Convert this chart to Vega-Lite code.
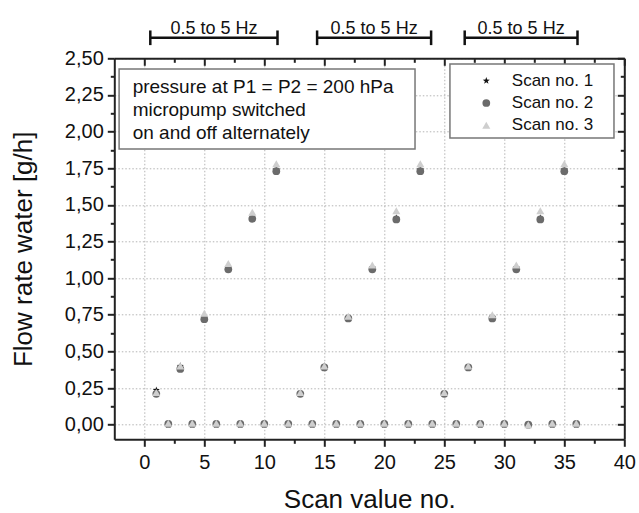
{
  "$schema": "https://vega.github.io/schema/vega-lite/v6.json",
  "width": 510,
  "height": 381,
  "autosize": {"type": "none"},
  "padding": {"left": 114.3, "top": 58.3, "right": 14.7, "bottom": 73.7},
  "background": "white",
  "config": {
    "font": "Liberation Sans",
    "view": {"stroke": null},
    "axis": {"titleFontWeight": "normal", "titleColor": "#111", "labelColor": "#111", "domainColor": "#222", "domainWidth": 2, "tickColor": "#222", "tickWidth": 2, "labelFlush": false, "labelOverlap": false, "labelBound": false}
  },
  "datasets": {
    "flow": [
      {"scan": "Scan no. 1", "n": 1, "flow": 0.235}, {"scan": "Scan no. 1", "n": 2, "flow": 0}, {"scan": "Scan no. 1", "n": 3, "flow": 0.40}, {"scan": "Scan no. 1", "n": 4, "flow": 0},
      {"scan": "Scan no. 1", "n": 5, "flow": 0.73}, {"scan": "Scan no. 1", "n": 6, "flow": 0}, {"scan": "Scan no. 1", "n": 7, "flow": 1.07}, {"scan": "Scan no. 1", "n": 8, "flow": 0},
      {"scan": "Scan no. 1", "n": 9, "flow": 1.41}, {"scan": "Scan no. 1", "n": 10, "flow": 0}, {"scan": "Scan no. 1", "n": 11, "flow": 1.74}, {"scan": "Scan no. 1", "n": 12, "flow": 0},
      {"scan": "Scan no. 1", "n": 13, "flow": 0.21}, {"scan": "Scan no. 1", "n": 14, "flow": 0}, {"scan": "Scan no. 1", "n": 15, "flow": 0.40}, {"scan": "Scan no. 1", "n": 16, "flow": 0},
      {"scan": "Scan no. 1", "n": 17, "flow": 0.73}, {"scan": "Scan no. 1", "n": 18, "flow": 0}, {"scan": "Scan no. 1", "n": 19, "flow": 1.07}, {"scan": "Scan no. 1", "n": 20, "flow": 0},
      {"scan": "Scan no. 1", "n": 21, "flow": 1.41}, {"scan": "Scan no. 1", "n": 22, "flow": 0}, {"scan": "Scan no. 1", "n": 23, "flow": 1.74}, {"scan": "Scan no. 1", "n": 24, "flow": 0},
      {"scan": "Scan no. 1", "n": 25, "flow": 0.21}, {"scan": "Scan no. 1", "n": 26, "flow": 0}, {"scan": "Scan no. 1", "n": 27, "flow": 0.39}, {"scan": "Scan no. 1", "n": 28, "flow": 0},
      {"scan": "Scan no. 1", "n": 29, "flow": 0.73}, {"scan": "Scan no. 1", "n": 30, "flow": 0}, {"scan": "Scan no. 1", "n": 31, "flow": 1.07}, {"scan": "Scan no. 1", "n": 32, "flow": 0},
      {"scan": "Scan no. 1", "n": 33, "flow": 1.41}, {"scan": "Scan no. 1", "n": 34, "flow": 0}, {"scan": "Scan no. 1", "n": 35, "flow": 1.74}, {"scan": "Scan no. 1", "n": 36, "flow": 0},
      {"scan": "Scan no. 2", "n": 1, "flow": 0.21}, {"scan": "Scan no. 2", "n": 2, "flow": 0.005}, {"scan": "Scan no. 2", "n": 3, "flow": 0.38}, {"scan": "Scan no. 2", "n": 4, "flow": 0.005},
      {"scan": "Scan no. 2", "n": 5, "flow": 0.72}, {"scan": "Scan no. 2", "n": 6, "flow": 0.005}, {"scan": "Scan no. 2", "n": 7, "flow": 1.06}, {"scan": "Scan no. 2", "n": 8, "flow": 0.005},
      {"scan": "Scan no. 2", "n": 9, "flow": 1.405}, {"scan": "Scan no. 2", "n": 10, "flow": 0.005}, {"scan": "Scan no. 2", "n": 11, "flow": 1.73}, {"scan": "Scan no. 2", "n": 12, "flow": 0.005},
      {"scan": "Scan no. 2", "n": 13, "flow": 0.21}, {"scan": "Scan no. 2", "n": 14, "flow": 0.005}, {"scan": "Scan no. 2", "n": 15, "flow": 0.39}, {"scan": "Scan no. 2", "n": 16, "flow": 0.005},
      {"scan": "Scan no. 2", "n": 17, "flow": 0.725}, {"scan": "Scan no. 2", "n": 18, "flow": 0.005}, {"scan": "Scan no. 2", "n": 19, "flow": 1.06}, {"scan": "Scan no. 2", "n": 20, "flow": 0.005},
      {"scan": "Scan no. 2", "n": 21, "flow": 1.40}, {"scan": "Scan no. 2", "n": 22, "flow": 0.005}, {"scan": "Scan no. 2", "n": 23, "flow": 1.73}, {"scan": "Scan no. 2", "n": 24, "flow": 0.005},
      {"scan": "Scan no. 2", "n": 25, "flow": 0.21}, {"scan": "Scan no. 2", "n": 26, "flow": 0.005}, {"scan": "Scan no. 2", "n": 27, "flow": 0.39}, {"scan": "Scan no. 2", "n": 28, "flow": 0.005},
      {"scan": "Scan no. 2", "n": 29, "flow": 0.725}, {"scan": "Scan no. 2", "n": 30, "flow": 0.005}, {"scan": "Scan no. 2", "n": 31, "flow": 1.06}, {"scan": "Scan no. 2", "n": 32, "flow": 0.0},
      {"scan": "Scan no. 2", "n": 33, "flow": 1.40}, {"scan": "Scan no. 2", "n": 34, "flow": 0.005}, {"scan": "Scan no. 2", "n": 35, "flow": 1.73}, {"scan": "Scan no. 2", "n": 36, "flow": 0.005},
      {"scan": "Scan no. 3", "n": 1, "flow": 0.22}, {"scan": "Scan no. 3", "n": 2, "flow": 0.01}, {"scan": "Scan no. 3", "n": 3, "flow": 0.40}, {"scan": "Scan no. 3", "n": 4, "flow": 0.01},
      {"scan": "Scan no. 3", "n": 5, "flow": 0.76}, {"scan": "Scan no. 3", "n": 6, "flow": 0.01}, {"scan": "Scan no. 3", "n": 7, "flow": 1.10}, {"scan": "Scan no. 3", "n": 8, "flow": 0.01},
      {"scan": "Scan no. 3", "n": 9, "flow": 1.45}, {"scan": "Scan no. 3", "n": 10, "flow": 0.01}, {"scan": "Scan no. 3", "n": 11, "flow": 1.78}, {"scan": "Scan no. 3", "n": 12, "flow": 0.01},
      {"scan": "Scan no. 3", "n": 13, "flow": 0.22}, {"scan": "Scan no. 3", "n": 14, "flow": 0.01}, {"scan": "Scan no. 3", "n": 15, "flow": 0.40}, {"scan": "Scan no. 3", "n": 16, "flow": 0.01},
      {"scan": "Scan no. 3", "n": 17, "flow": 0.74}, {"scan": "Scan no. 3", "n": 18, "flow": 0.01}, {"scan": "Scan no. 3", "n": 19, "flow": 1.09}, {"scan": "Scan no. 3", "n": 20, "flow": 0.01},
      {"scan": "Scan no. 3", "n": 21, "flow": 1.46}, {"scan": "Scan no. 3", "n": 22, "flow": 0.01}, {"scan": "Scan no. 3", "n": 23, "flow": 1.78}, {"scan": "Scan no. 3", "n": 24, "flow": 0.01},
      {"scan": "Scan no. 3", "n": 25, "flow": 0.22}, {"scan": "Scan no. 3", "n": 26, "flow": 0.01}, {"scan": "Scan no. 3", "n": 27, "flow": 0.40}, {"scan": "Scan no. 3", "n": 28, "flow": 0.01},
      {"scan": "Scan no. 3", "n": 29, "flow": 0.75}, {"scan": "Scan no. 3", "n": 30, "flow": 0.01}, {"scan": "Scan no. 3", "n": 31, "flow": 1.09}, {"scan": "Scan no. 3", "n": 32, "flow": 0.0},
      {"scan": "Scan no. 3", "n": 33, "flow": 1.46}, {"scan": "Scan no. 3", "n": 34, "flow": 0.01}, {"scan": "Scan no. 3", "n": 35, "flow": 1.78}, {"scan": "Scan no. 3", "n": 36, "flow": 0.01}
    ],
    "brackets": [
      {"from": 0.5, "to": 11.1, "mid": 5.8, "label": "0.5 to 5 Hz"},
      {"from": 14.4, "to": 23.9, "mid": 19.15, "label": "0.5 to 5 Hz"},
      {"from": 26.7, "to": 36.1, "mid": 31.4, "label": "0.5 to 5 Hz"}
    ]
  },
  "resolve": {"axis": {"x": "independent", "y": "independent"}},
  "layer": [
    {
      "data": {"values": [{}]},
      "mark": {"type": "rect", "fill": "white", "stroke": "#777", "strokeWidth": 1.5},
      "encoding": {
        "x": {"datum": -2.1, "type": "quantitative", "axis": {"orient": "top", "title": null, "labels": false, "grid": false,
          "values": [0,2.5,5,7.5,10,12.5,15,17.5,20,22.5,25,27.5,30,32.5,35,37.5,40],
          "tickSize": {"condition": {"test": "datum.value % 5 != 0", "value": -4}, "value": -7}}},
        "x2": {"datum": 22.56},
        "y": {"datum": 2.427, "type": "quantitative", "axis": {"orient": "right", "title": null, "labels": false, "grid": false,
          "values": [0,0.125,0.25,0.375,0.5,0.625,0.75,0.875,1,1.125,1.25,1.375,1.5,1.625,1.75,1.875,2,2.125,2.25,2.375,2.5],
          "tickSize": {"condition": {"test": "datum.value*4 != round(datum.value*4)", "value": -4}, "value": -7}}},
        "y2": {"datum": 1.881}
      }
    },
    {
      "data": {"values": [{}]},
      "mark": {"type": "text", "text": ["pressure at P1 = P2 = 200 hPa", "micropump switched", "on and off alternately"], "align": "left", "baseline": "middle", "fontSize": 19, "lineHeight": 23.3, "color": "#111"},
      "encoding": {
        "x": {"datum": -0.97, "type": "quantitative", "axis": null},
        "y": {"datum": 2.306, "type": "quantitative", "axis": null}
      }
    },
    {
      "data": {"values": [{}]},
      "mark": {"type": "rect", "fill": "white", "stroke": "#777", "strokeWidth": 1.5},
      "encoding": {
        "x": {"datum": 25.47, "type": "quantitative", "axis": null},
        "x2": {"datum": 39.14},
        "y": {"datum": 2.461, "type": "quantitative", "axis": null},
        "y2": {"datum": 1.956}
      }
    },
    {
      "data": {"name": "flow"},
      "mark": {"type": "point", "filled": true, "opacity": 1, "strokeWidth": 0},
      "encoding": {
        "x": {"field": "n", "type": "quantitative", "scale": {"domain": [-2.5, 40], "nice": false, "zero": false},
          "axis": {"orient": "bottom", "title": "Scan value no.", "titleFontSize": 26, "titlePadding": 14,
            "values": [0,2.5,5,7.5,10,12.5,15,17.5,20,22.5,25,27.5,30,32.5,35,37.5,40],
            "labelExpr": "datum.value % 5 == 0 ? datum.label : ''", "labelFontSize": 20, "labelPadding": 6,
            "tickSize": {"condition": {"test": "datum.value % 5 != 0", "value": 4}, "value": 7},
            "grid": true, "gridColor": "#b4b4b4", "gridDash": [1.5, 2], "gridWidth": 1,
            "gridOpacity": {"condition": {"test": "datum.value % 5 != 0", "value": 0}, "value": 1}}},
        "y": {"field": "flow", "type": "quantitative", "scale": {"domain": [-0.1, 2.5], "nice": false, "zero": false},
          "axis": {"orient": "left", "title": "Flow rate water [g/h]", "titleFontSize": 26, "titlePadding": 28,
            "values": [0,0.125,0.25,0.375,0.5,0.625,0.75,0.875,1,1.125,1.25,1.375,1.5,1.625,1.75,1.875,2,2.125,2.25,2.375,2.5],
            "labelExpr": "datum.value*4 == round(datum.value*4) ? replace(format(datum.value, '.2f'), '.', ',') : ''",
            "labelFontSize": 20, "labelPadding": 4,
            "tickSize": {"condition": {"test": "datum.value*4 != round(datum.value*4)", "value": 4}, "value": 7},
            "grid": true, "gridColor": "#b4b4b4", "gridDash": [1.5, 2], "gridWidth": 1,
            "gridOpacity": {"condition": {"test": "datum.value*4 != round(datum.value*4)", "value": 0}, "value": 1}}},
        "size": {"field": "scan", "type": "ordinal", "scale": {"domain": ["Scan no. 1", "Scan no. 2", "Scan no. 3"], "range": [55, 65, 95]}, "legend": null},
        "color": {"field": "scan", "type": "nominal",
          "scale": {"domain": ["Scan no. 1", "Scan no. 2", "Scan no. 3"], "range": ["#111111", "#6b6b6b", "#cecece"]},
          "legend": {"orient": "none", "legendX": 363.5, "legendY": 14, "title": null, "labelFontSize": 17, "labelColor": "#111", "symbolSize": 70, "rowPadding": 4.2, "labelOffset": 17, "padding": 0, "symbolStrokeWidth": 0}},
        "shape": {"field": "scan", "type": "nominal",
          "scale": {"domain": ["Scan no. 1", "Scan no. 2", "Scan no. 3"], "range": ["M0,-1L0.235,-0.324L0.951,-0.309L0.38,0.124L0.588,0.809L0,0.4L-0.588,0.809L-0.38,0.124L-0.951,-0.309L-0.235,-0.324Z", "circle", "triangle-up"]},
          "legend": {"orient": "none", "legendX": 363.5, "legendY": 14, "title": null, "labelFontSize": 17, "labelColor": "#111", "symbolSize": 70, "rowPadding": 4.2, "labelOffset": 17, "padding": 0, "symbolStrokeWidth": 0}}
      }
    },
    {
      "data": {"name": "brackets"},
      "mark": {"type": "rule", "strokeWidth": 2.5, "color": "#111"},
      "encoding": {
        "x": {"field": "from", "type": "quantitative", "axis": null},
        "x2": {"field": "to"},
        "y": {"datum": 2.64, "type": "quantitative", "axis": null}
      }
    },
    {
      "data": {"name": "brackets"},
      "mark": {"type": "rule", "strokeWidth": 2.5, "color": "#111"},
      "encoding": {
        "x": {"field": "from", "type": "quantitative", "axis": null},
        "y": {"datum": 2.59, "type": "quantitative", "axis": null},
        "y2": {"datum": 2.69}
      }
    },
    {
      "data": {"name": "brackets"},
      "mark": {"type": "rule", "strokeWidth": 2.5, "color": "#111"},
      "encoding": {
        "x": {"field": "to", "type": "quantitative", "axis": null},
        "y": {"datum": 2.59, "type": "quantitative", "axis": null},
        "y2": {"datum": 2.69}
      }
    },
    {
      "data": {"name": "brackets"},
      "mark": {"type": "text", "fontSize": 18, "color": "#111", "baseline": "middle", "align": "center"},
      "encoding": {
        "x": {"field": "mid", "type": "quantitative", "axis": null},
        "y": {"datum": 2.70, "type": "quantitative", "axis": null},
        "text": {"field": "label"}
      }
    }
  ]
}
